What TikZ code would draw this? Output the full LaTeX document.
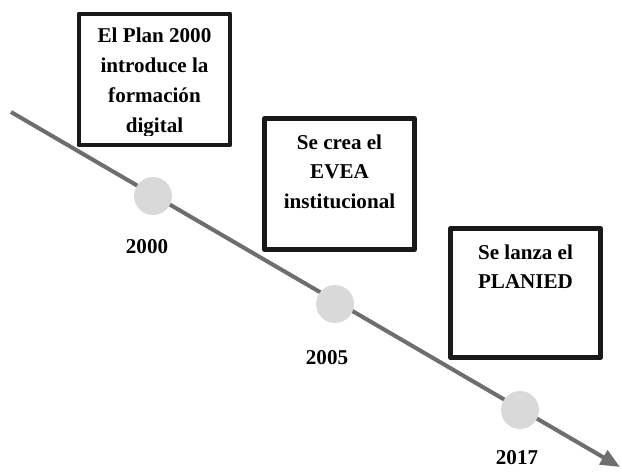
\documentclass[tikz,border=0pt]{standalone}
\usepackage{fontspec}
\setmainfont{Liberation Serif}
\usetikzlibrary{arrows.meta,positioning}
\definecolor{linegray}{HTML}{6E6E6E}
\definecolor{dotgray}{HTML}{D9D9D9}
\tikzset{
  timeline/.style={draw=linegray, line width=2.3pt, -{Triangle[length=11pt,width=9pt]}},
  dot/.style={circle, fill=dotgray, minimum size=0.76cm, inner sep=0pt},
  year/.style={font=\fontsize{12}{14}\selectfont\bfseries},
  evbox/.style={draw=black!90, line width=2.8pt, minimum width=#1, inner sep=0pt},
  evtext/.style={align=center, inner sep=0pt, font=\fontsize{12}{17}\selectfont\bfseries}
}
\begin{document}
\begin{tikzpicture}[x=0.02cm, y=-0.02cm, line join=round]
	\useasboundingbox (0,0) rectangle (622,471);
	% linea de tiempo
	\coordinate (start) at (11,112);
	\coordinate (end) at (620,467);
	\draw[timeline] (start)--(end);
	\foreach \x/\y/\lx/\ly/\t/\n in {153/196/147/247/2000/a,335/304/327/358/2005/b,520/410/517/458/2017/c}{
		\node[dot] (dot\n) at (\x,\y) {};
		\node[year] (yr\n) at (\lx,\ly) {\t};
	}
	% recuadros
	\node[evbox=3.02cm, minimum height=2.62cm] (boxa) at (154.5,79.5) {};
	\node[evbox=3.00cm, minimum height=2.62cm] (boxb) at (339.5,184) {};
	\node[evbox=3.00cm, minimum height=2.58cm] (boxc) at (525.5,293) {};
	\begin{scope}
		\clip (70,0) rectangle (240,135);
		\node[evtext, below=0.32cm of boxa.north] (txta) {El Plan 2000\\introduce la\\formación\\digital};
	\end{scope}
	\node[evtext, below=0.36cm of boxb.north] (txtb) {Se crea el\\EVEA\\institucional};
	\node[evtext, below=0.36cm of boxc.north] (txtc) {Se lanza el\\PLANIED};
\end{tikzpicture}
\end{document}
